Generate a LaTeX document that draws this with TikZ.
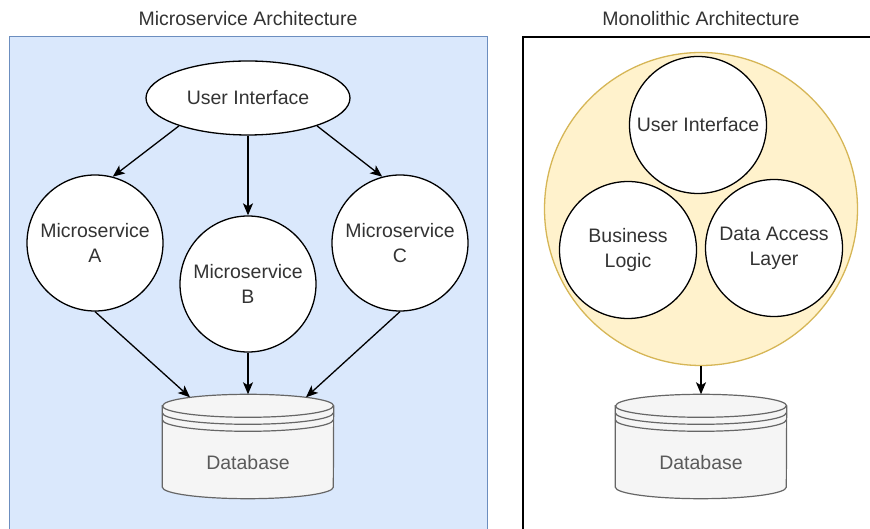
\documentclass[tikz,border=0pt]{standalone}
\usepackage{fontspec}
\setmainfont{Liberation Sans}
\usetikzlibrary{arrows.meta,shapes.geometric}

\definecolor{panelfill}{HTML}{DAE8FC}
\definecolor{panelstroke}{HTML}{6C8EBF}
\definecolor{monofill}{HTML}{FFF2CC}
\definecolor{monostroke}{HTML}{D6B656}
\definecolor{dbfill}{HTML}{F5F5F5}
\definecolor{dbstroke}{HTML}{666666}
\definecolor{txt}{HTML}{333333}
\definecolor{dbtxt}{HTML}{5A5A5A}

% datastore cylinder drawn around a named box node
\newcommand\dbcyl[1]{%
  \draw[dbline,fill=dbfill] ([yshift=-11.5pt]#1.north west) -- ([yshift=11.5pt]#1.south west)
    arc[start angle=180,end angle=360,x radius=85.5pt,y radius=11.5pt]
    -- ([yshift=-11.5pt]#1.north east)
    arc[start angle=0,end angle=180,x radius=85.5pt,y radius=11.5pt] -- cycle;
  \draw[dbline] ([yshift=-11.5pt]#1.north west) arc[start angle=180,end angle=360,x radius=85.5pt,y radius=11.5pt];
  \draw[dbline] ([yshift=-18.5pt]#1.north west) arc[start angle=180,end angle=360,x radius=85.5pt,y radius=11.5pt];
  \draw[dbline] ([yshift=-25.5pt]#1.north west) arc[start angle=180,end angle=360,x radius=85.5pt,y radius=11.5pt];
}

\begin{document}
\begin{tikzpicture}[x=1pt,y=1pt,
  every node/.style={font=\fontsize{19.5}{25}\selectfont, text=txt},
  title/.style={inner sep=0pt},
  uiell/.style={ellipse, draw=black, fill=white, line width=1.3pt, minimum width=204pt, minimum height=74pt, inner sep=0pt},
  svc/.style={circle, draw=black, fill=white, line width=1.3pt, minimum size=136pt, inner sep=0pt, align=center},
  layer/.style={circle, draw=black, fill=white, line width=1.3pt, minimum size=137pt, inner sep=0pt, align=center},
  mono/.style={circle, draw=monostroke, fill=monofill, line width=1.3pt, minimum size=313pt, inner sep=0pt},
  dbbox/.style={rectangle, draw=none, minimum width=171pt, minimum height=104pt, inner sep=0pt},
  dbline/.style={draw=dbstroke, line width=1.2pt},
  dbtext/.style={text=dbtxt, inner sep=0pt},
  arr/.style={draw=black, line width=1.3pt, -{Stealth[length=12pt,width=10pt,inset=3pt]}}
]
\useasboundingbox (0,0) rectangle (870,529);
\clip (0,0) rectangle (870,529);
\fill[white] (0,0) rectangle (870,529);

% panels
\draw[draw=panelstroke, fill=panelfill, line width=1pt] (9,-10) rectangle (487,492);
\draw[draw=black, fill=white, line width=1.3pt] (523,-10) rectangle (890,492);

\node[title] (t1) at (248,510) {Microservice Architecture};
\node[title] (t2) at (701,510) {Monolithic Architecture};

% microservice side
\node[uiell] (ui) at (248,431) {User Interface};
\node[svc] (sa) at (95,286) {Microservice\\A};
\node[svc] (sb) at (248,245) {Microservice\\B};
\node[svc] (sc) at (400,286) {Microservice\\C};

\node[dbbox] (dbL) at (248,82.5) {};
\dbcyl{dbL}
\node[dbtext] (dbLlabel) at ([yshift=-16.5pt]dbL.center) {Database};
\coordinate (dbLa) at ([shift={(-58pt,-3pt)}]dbL.north);
\coordinate (dbLc) at ([shift={(58pt,-3pt)}]dbL.north);

\draw[arr] (ui.202) -- (sa.75);
\draw[arr] (ui.south) -- (sb.north);
\draw[arr] (ui.338) -- (sc.105);
\draw[arr] (sa.south) -- (dbLa);
\draw[arr] (sb.south) -- (dbL.north);
\draw[arr] (sc.south) -- (dbLc);

% monolithic side
\node[mono] (app) at (701,320) {};
\node[layer] (mui) at (698,404) {User Interface};
\node[layer] (mbl) at (628,279) {Business\\Logic};
\node[layer] (mdal) at (774,281) {Data Access\\Layer};

\node[dbbox] (dbR) at (701,82.5) {};
\dbcyl{dbR}
\node[dbtext] (dbRlabel) at ([yshift=-16.5pt]dbR.center) {Database};

\draw[arr] (app.south) -- (dbR.north);
\end{tikzpicture}
\end{document}
